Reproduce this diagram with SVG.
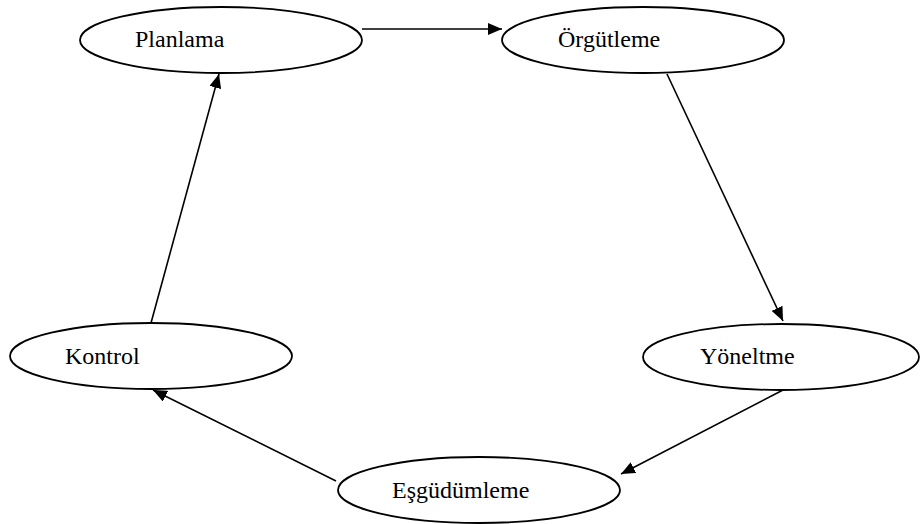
<svg xmlns="http://www.w3.org/2000/svg" width="921" height="524" viewBox="0 0 921 524">
  <style>
    .node ellipse { fill: #ffffff; stroke: #000000; stroke-width: 1.8; }
    .node text { font-family: "Liberation Serif", "Times New Roman", serif; font-size: 24px; fill: #000000; }
    .edges line { stroke: #000000; stroke-width: 1.6; marker-end: url(#arrow); }
  </style>
  <defs>
    <marker id="arrow" viewBox="0 0 14 12" refX="14" refY="6" markerWidth="14" markerHeight="12" markerUnits="userSpaceOnUse" orient="auto">
      <path d="M0,0 L14,6 L0,12 Z" fill="#000000"/>
    </marker>
  </defs>
  <rect width="921" height="524" fill="#ffffff"/>

  <g id="planlama" class="node">
    <ellipse cx="221" cy="40" rx="141" ry="33"/>
    <text x="135" y="47">Planlama</text>
  </g>
  <g id="orgutleme" class="node">
    <ellipse cx="643" cy="40" rx="141" ry="33"/>
    <text x="558" y="47">Örgütleme</text>
  </g>
  <g id="yoneltme" class="node">
    <ellipse cx="781" cy="357" rx="138" ry="33"/>
    <text x="700" y="364">Yöneltme</text>
  </g>
  <g id="esgudumleme" class="node">
    <ellipse cx="479" cy="490" rx="141" ry="33"/>
    <text x="392" y="498">Eşgüdümleme</text>
  </g>
  <g id="kontrol" class="node">
    <ellipse cx="151" cy="356" rx="141" ry="33"/>
    <text x="65" y="364">Kontrol</text>
  </g>

  <g id="connectors" class="edges">
    <line x1="362" y1="29" x2="502" y2="29"/>
    <line x1="667" y1="74" x2="783" y2="321"/>
    <line x1="783" y1="390" x2="621" y2="474"/>
    <line x1="336" y1="481" x2="153" y2="390"/>
    <line x1="151" y1="323" x2="219" y2="74"/>
  </g>
</svg>
